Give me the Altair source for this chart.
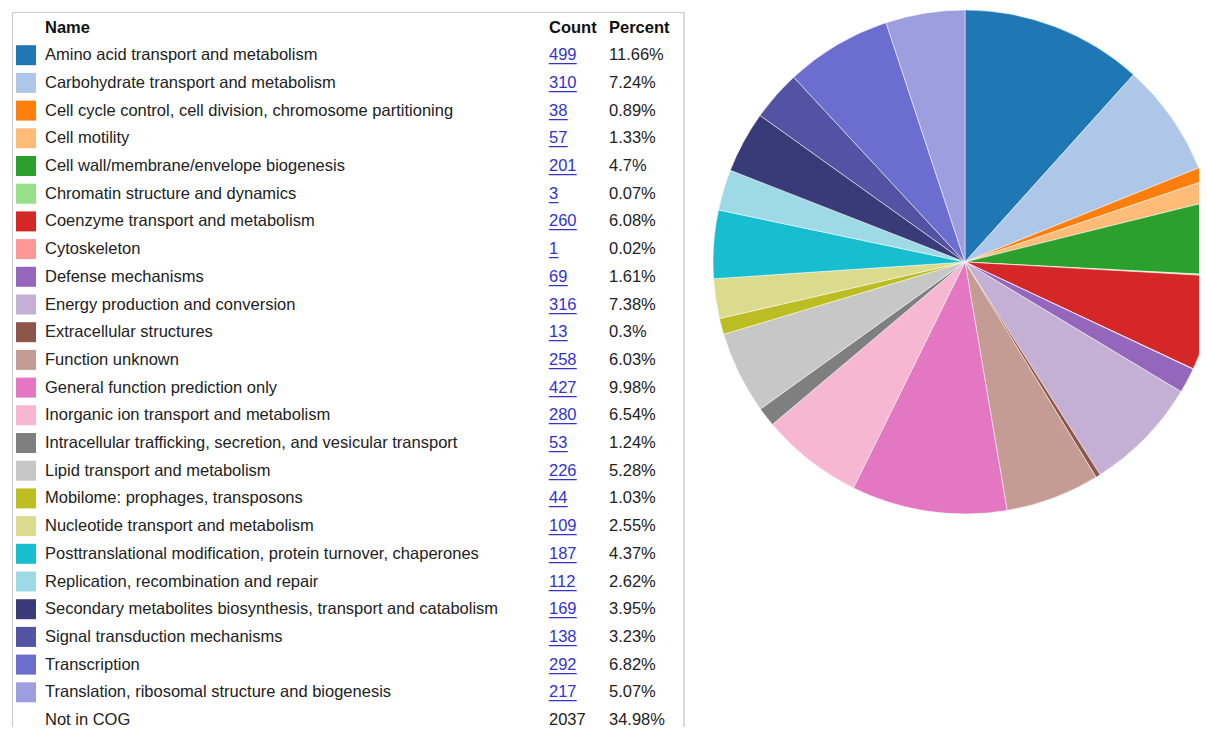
import altair as alt
import pandas as pd

names = [
    "Amino acid transport and metabolism",
    "Carbohydrate transport and metabolism",
    "Cell cycle control, cell division, chromosome partitioning",
    "Cell motility",
    "Cell wall/membrane/envelope biogenesis",
    "Chromatin structure and dynamics",
    "Coenzyme transport and metabolism",
    "Cytoskeleton",
    "Defense mechanisms",
    "Energy production and conversion",
    "Extracellular structures",
    "Function unknown",
    "General function prediction only",
    "Inorganic ion transport and metabolism",
    "Intracellular trafficking, secretion, and vesicular transport",
    "Lipid transport and metabolism",
    "Mobilome: prophages, transposons",
    "Nucleotide transport and metabolism",
    "Posttranslational modification, protein turnover, chaperones",
    "Replication, recombination and repair",
    "Secondary metabolites biosynthesis, transport and catabolism",
    "Signal transduction mechanisms",
    "Transcription",
    "Translation, ribosomal structure and biogenesis",
]
counts = [499, 310, 38, 57, 201, 3, 260, 1, 69, 316, 13, 258, 427, 280, 53,
          226, 44, 109, 187, 112, 169, 138, 292, 217]
percents = ["11.66%", "7.24%", "0.89%", "1.33%", "4.7%", "0.07%", "6.08%",
            "0.02%", "1.61%", "7.38%", "0.3%", "6.03%", "9.98%", "6.54%",
            "1.24%", "5.28%", "1.03%", "2.55%", "4.37%", "2.62%", "3.95%",
            "3.23%", "6.82%", "5.07%"]
colors = ["#1f77b4", "#aec7e8", "#ff7f0e", "#ffbb78", "#2ca02c", "#98df8a",
          "#d62728", "#ff9896", "#9467bd", "#c5b0d5", "#8c564b", "#c49c94",
          "#e377c2", "#f7b6d2", "#7f7f7f", "#c7c7c7", "#bcbd22", "#dbdb8d",
          "#17becf", "#9edae5", "#393b79", "#5254a3", "#6b6ecf", "#9c9ede"]
other_name = "Not in COG"
other_count = 2037
other_percent = "34.98%"
headers = ["Name", "Count", "Percent"]

FONT = "Liberation Sans"
FS = 16.5

cog = pd.DataFrame({
    "name": names,
    "count": counts,
    "percent": percents,
    "row": list(range(1, len(names) + 1)),
    "idx": list(range(len(names))),
})
cog["uline"] = cog["count"].astype(str).str.len().map(lambda n: "_" * n)
allrows = pd.concat([
    cog[["name", "percent", "row"]],
    pd.DataFrame({"name": [other_name], "percent": [other_percent], "row": [len(names) + 1]}),
], ignore_index=True)
other = pd.DataFrame({"count": [other_count], "row": [len(names) + 1]})
hdr = pd.DataFrame({"label": headers, "row": [0, 0, 0]})

yscale = alt.Scale(domain=[0, 25], range=[19.5, 712])
Y = alt.Y("row:Q", scale=yscale, axis=None)

color_scale = alt.Scale(domain=names, range=colors)

border_src = pd.DataFrame({"k": [0]})
top_border = alt.Chart(border_src).mark_rule(color="#cccccc", strokeWidth=1).encode(
    x=alt.value(4), x2=alt.value(676), y=alt.value(4.5))
left_border = alt.Chart(border_src).mark_rule(color="#cccccc", strokeWidth=1).encode(
    x=alt.value(4.5), y=alt.value(4), y2=alt.value(719))
right_border = alt.Chart(border_src).mark_rule(color="#cccccc", strokeWidth=1.5).encode(
    x=alt.value(676), y=alt.value(4), y2=alt.value(719))

def header_layer(label, xpos):
    return alt.Chart(hdr).transform_filter(alt.datum.label == label).mark_text(
        font=FONT, fontSize=FS, fontWeight="bold", align="left", baseline="middle",
        color="#111111").encode(x=alt.value(xpos), y=Y, text="label:N")

squares = alt.Chart(cog).mark_square(size=400, opacity=1, filled=True).encode(
    x=alt.value(18), y=Y,
    color=alt.Color("name:N", scale=color_scale, legend=None))

name_text = alt.Chart(allrows).mark_text(
    font=FONT, fontSize=FS, align="left", baseline="middle", color="#222222").encode(
    x=alt.value(37), y=Y, text="name:N")

count_text = alt.Chart(cog).mark_text(
    font=FONT, fontSize=FS, align="left", baseline="middle", color="#3333cc").encode(
    x=alt.value(541), y=Y, text="count:Q")
count_uline = alt.Chart(cog).mark_text(
    font=FONT, fontSize=FS, align="left", baseline="middle", color="#3333cc", dy=1).encode(
    x=alt.value(541), y=Y, text="uline:N")
other_count_text = alt.Chart(other).mark_text(
    font=FONT, fontSize=FS, align="left", baseline="middle", color="#222222").encode(
    x=alt.value(541), y=Y, text="count:Q")

pct_text = alt.Chart(allrows).mark_text(
    font=FONT, fontSize=FS, align="left", baseline="middle", color="#222222").encode(
    x=alt.value(601), y=Y, text="percent:N")

pie = alt.Chart(cog).mark_arc(outerRadius=252, stroke="white", strokeWidth=0.5).encode(
    theta=alt.Theta("count:Q", stack=True),
    order=alt.Order("idx:Q"),
    color=alt.Color("name:N", scale=color_scale, legend=None),
    x=alt.value(957), y=alt.value(254))

chart = alt.layer(
    top_border, left_border, right_border,
    header_layer("Name", 37), header_layer("Count", 541), header_layer("Percent", 601),
    squares, name_text, count_text, count_uline, other_count_text, pct_text,
    pie,
).properties(
    width=1191, height=719, padding=0,
    autosize=alt.AutoSizeParams(type="none"),
).configure_view(stroke=None)

chart.save("out.html", embed_options={"renderer": "svg", "actions": False})
